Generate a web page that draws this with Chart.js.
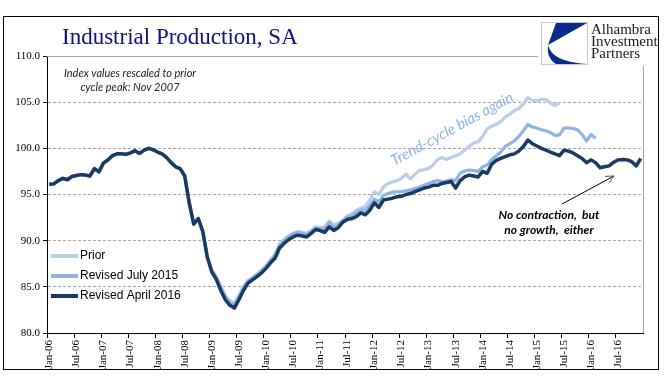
<!DOCTYPE html>
<html>
<head>
<meta charset="utf-8">
<script src="https://cdn.jsdelivr.net/npm/chart.js@4"></script>
<style>
html, body { margin: 0; padding: 0; background: #fff; }
#wrap { width: 669px; height: 392px; }
</style>
</head>
<body>
<div id="wrap"><canvas id="ipChart" width="669" height="392"></canvas></div>
<script>
// month labels Jan-06 .. Dec-16
const monthNames = ['Jan', 'Feb', 'Mar', 'Apr', 'May', 'Jun', 'Jul', 'Aug', 'Sep', 'Oct', 'Nov', 'Dec'];
const yearNames = ['06', '07', '08', '09', '10', '11', '12', '13', '14', '15', '16'];
const labels = [];
yearNames.forEach(y => monthNames.forEach(m => labels.push(m + '-' + y)));

const seriesNames = ['Prior', 'Revised July 2015', 'Revised April 2016'];
const seriesColors = ['#B9CDE5', '#8DB4E2', '#1B3A63'];

const prior = [
    96.1, 96.15, 96.5, 96.75, 96.6, 96.95, 97.05, 97.15, 97.1, 97.0,
    97.8, 97.45, 98.4, 98.75, 99.2, 99.4, 99.4, 99.35, 99.5, 99.75,
    99.45, 99.8, 100.0, 99.85, 99.6, 99.4, 99.0, 98.45, 98.0, 97.8,
    97.0, 94.1, 91.8, 92.4, 91.0, 88.3, 86.8, 86.1, 85.0, 84.1,
    83.5, 83.2, 84.1, 85.0, 85.7, 86.0, 86.4, 86.8, 87.3, 87.9,
    88.5, 89.6, 90.1, 90.5, 90.8, 91.0, 90.9, 90.8, 91.1, 91.5,
    91.4, 91.5, 92.1, 91.7, 91.9, 92.2, 92.7, 92.9, 93.3, 93.5,
    93.7, 94.4, 95.3, 95.0, 95.8, 96.2, 96.35, 96.5, 96.75, 97.2,
    96.7, 97.2, 97.6, 97.7, 97.8, 98.2, 98.8, 99.0, 98.8, 99.0,
    99.2, 99.4, 99.8, 100.2, 100.6, 100.7, 101.3, 102.1, 102.4, 102.6,
    102.9, 103.4, 103.7, 104.1, 104.3, 104.8, 105.5, 105.2, 105.15, 105.3,
    105.3, 104.9, 104.65, 104.9
];

const revisedJul15 = [
    96.1, 96.15, 96.5, 96.75, 96.6, 96.95, 97.05, 97.15, 97.1, 97.0,
    97.8, 97.45, 98.4, 98.75, 99.2, 99.4, 99.4, 99.35, 99.5, 99.75,
    99.45, 99.8, 100.0, 99.85, 99.6, 99.4, 99.0, 98.45, 98.0, 97.8,
    97.0, 94.1, 91.8, 92.4, 91.0, 88.3, 86.8, 86.0, 84.9, 83.9,
    83.3, 83.0, 83.9, 84.9, 85.6, 85.95, 86.3, 86.7, 87.2, 87.8,
    88.4, 89.5, 90.0, 90.4, 90.7, 90.9, 90.8, 90.65, 91.0, 91.4,
    91.3, 91.3, 92.0, 91.4, 91.7, 92.1, 92.5, 92.7, 93.0, 93.3,
    93.3, 93.8, 94.5, 94.2, 94.9, 95.1, 95.25, 95.3, 95.3, 95.4,
    95.5, 95.65, 95.8, 96.0, 96.2, 96.4, 96.5, 96.4, 96.45, 96.6,
    96.5, 97.3, 97.55, 97.65, 97.6, 97.5, 98.0, 98.2, 98.8, 99.2,
    99.6, 100.2, 100.5, 100.8, 101.3, 101.9, 102.6, 102.3, 102.2, 102.0,
    101.9, 101.7, 101.4, 101.45, 102.2, 102.2, 102.15, 102.0, 101.5, 100.8,
    101.5, 101.1
];

const revisedApr16 = [
    96.1, 96.15, 96.5, 96.75, 96.6, 96.95, 97.05, 97.15, 97.1, 97.0,
    97.8, 97.45, 98.4, 98.75, 99.2, 99.4, 99.4, 99.35, 99.5, 99.75,
    99.45, 99.8, 100.0, 99.85, 99.6, 99.4, 99.0, 98.45, 98.0, 97.8,
    97.0, 94.1, 91.8, 92.4, 91.0, 88.2, 86.6, 85.8, 84.6, 83.6,
    83.0, 82.7, 83.6, 84.6, 85.4, 85.75, 86.1, 86.5, 87.0, 87.6,
    88.1, 89.2, 89.7, 90.1, 90.4, 90.6, 90.5, 90.4, 90.8, 91.2,
    91.1, 90.9, 91.5, 91.1, 91.4, 92.0, 92.3, 92.4, 92.6, 93.0,
    92.8, 93.3, 94.1, 93.6, 94.4, 94.5, 94.6, 94.75, 94.8, 95.0,
    95.1, 95.3, 95.5, 95.7, 95.8, 96.0, 96.0, 96.2, 96.3, 96.4,
    95.7, 96.5, 96.9, 97.1, 97.0, 96.9, 97.5, 97.3, 98.3, 98.7,
    98.9, 99.1, 99.3, 99.4, 99.7, 100.2, 100.9, 100.5, 100.25, 100.0,
    99.8, 99.6, 99.4, 99.2, 99.8, 99.7, 99.5, 99.2, 98.9, 98.45,
    98.75, 98.45, 97.9, 98.0, 98.1, 98.5, 98.75, 98.8, 98.75, 98.55,
    98.1, 98.9
];

const yTickLabels = ['80.0', '85.0', '90.0', '95.0', '100.0', '105.0', '110.0'];

const chromePlugin = {
    id: 'chrome',
    beforeDraw(chart) {
        const ctx = chart.ctx;
        ctx.save();
        ctx.fillStyle = '#fff';
        ctx.fillRect(0, 0, chart.width, chart.height);
        ctx.restore();
    },
    afterDraw(chart) {
        const ctx = chart.ctx;
        const area = chart.chartArea;
        ctx.save();

        // plot area border top / right
        ctx.strokeStyle = '#A6A6A6';
        ctx.lineWidth = 1;
        ctx.beginPath();
        ctx.moveTo(area.left, area.top + 0.5);
        ctx.lineTo(area.right + 0.5, area.top + 0.5);
        ctx.lineTo(area.right + 0.5, area.bottom);
        ctx.stroke();

        // outer frame
        ctx.strokeStyle = '#000';
        ctx.strokeRect(3.5, 16.5, 655, 353);

        // title
        ctx.fillStyle = '#10107E';
        ctx.font = '23px "Liberation Serif"';
        ctx.textBaseline = 'alphabetic';
        ctx.fillText('Industrial Production, SA', 62, 44);

        // logo
        ctx.fillStyle = '#fff';
        ctx.fillRect(538, 20, 120, 46);
        ctx.strokeStyle = '#C8C8C8';
        ctx.strokeRect(541.5, 22.5, 46, 42);
        ctx.fillStyle = '#0A2A8C';
        ctx.beginPath();
        ctx.moveTo(556, 23);
        ctx.lineTo(587, 23);
        ctx.lineTo(548, 45);
        ctx.closePath();
        ctx.fill();
        ctx.beginPath();
        ctx.moveTo(548, 45);
        ctx.quadraticCurveTo(552, 62, 587, 64);
        ctx.lineTo(556, 64);
        ctx.quadraticCurveTo(546, 58, 548, 45);
        ctx.fill();
        ctx.fillStyle = '#1a1a2a';
        ctx.font = '15px "Liberation Serif"';
        ctx.fillText('Alhambra', 591, 34);
        ctx.fillText('Investment', 591, 46);
        ctx.fillText('Partners', 591, 58);

        // legend
        ctx.font = '12px "Liberation Sans"';
        ctx.textBaseline = 'middle';
        seriesNames.forEach((name, i) => {
            const y = 256 + i * 20;
            ctx.strokeStyle = seriesColors[i];
            ctx.lineWidth = 4;
            ctx.beginPath();
            ctx.moveTo(51, y);
            ctx.lineTo(78, y);
            ctx.stroke();
            ctx.fillStyle = '#000';
            ctx.fillText(name, 80, y);
        });

        // annotations
        ctx.textAlign = 'center';
        ctx.fillStyle = '#222';
        ctx.font = 'italic 11px Lato';
        ctx.fillText('Index values rescaled to prior', 130, 73);
        ctx.fillText('cycle peak: Nov 2007', 130, 87);

        ctx.font = 'bold italic 12px Lato';
        ctx.fillStyle = '#000';
        ctx.fillText('No contraction,  but', 549, 215);
        ctx.fillText('no growth,  either', 549, 230);

        ctx.save();
        ctx.translate(452, 129);
        ctx.rotate(-0.5);
        ctx.font = 'italic 15px Lato';
        ctx.fillStyle = '#8DB4E2';
        ctx.fillText('Trend-cycle bias again', 0, 0);
        ctx.restore();

        // arrow
        const x1 = 562, y1 = 204, x2 = 614, y2 = 176;
        const ang = Math.atan2(y2 - y1, x2 - x1);
        ctx.strokeStyle = '#000';
        ctx.lineWidth = 1;
        ctx.beginPath();
        ctx.moveTo(x1, y1);
        ctx.lineTo(x2, y2);
        ctx.stroke();
        ctx.strokeStyle = '#555';
        ctx.beginPath();
        ctx.moveTo(x2 - 9 * Math.cos(ang - 0.45), y2 - 9 * Math.sin(ang - 0.45));
        ctx.lineTo(x2, y2);
        ctx.lineTo(x2 - 9 * Math.cos(ang + 0.45), y2 - 9 * Math.sin(ang + 0.45));
        ctx.stroke();

        ctx.restore();
    }
};

const seriesData = [prior, revisedJul15, revisedApr16];

new Chart(document.getElementById('ipChart'), {
    type: 'line',
    data: {
        labels: labels,
        datasets: seriesNames.map((name, i) => ({
            label: name,
            data: seriesData[i],
            borderColor: seriesColors[i],
            borderWidth: i === 2 ? 3.5 : 3.2,
            pointRadius: 0,
            tension: 0,
            borderJoinStyle: 'round',
            order: 3 - i
        }))
    },
    options: {
        responsive: false,
        animation: false,
        layout: { padding: { top: 56, right: 26, left: 0, bottom: 0 } },
        plugins: {
            legend: { display: false },
            tooltip: { enabled: false }
        },
        scales: {
            x: {
                type: 'category',
                offset: true,
                ticks: {
                    autoSkip: false,
                    maxRotation: 90,
                    minRotation: 90,
                    padding: 2,
                    color: '#000',
                    font: { family: 'Liberation Serif', size: 11 },
                    callback: function (val, i) { return i % 6 === 0 ? this.getLabelForValue(val) : ''; }
                },
                grid: {
                    offset: true,
                    drawOnChartArea: false,
                    tickLength: 5,
                    tickColor: ctx => ctx.index % 6 === 0 ? '#000' : 'rgba(0,0,0,0)'
                },
                border: { color: '#000' },
                afterFit: s => { s.height = 59; }
            },
            y: {
                min: 80,
                max: 110,
                ticks: {
                    stepSize: 5,
                    padding: 3,
                    color: '#000',
                    font: { family: 'Liberation Serif', size: 11 },
                    callback: (v, i) => yTickLabels[i]
                },
                grid: {
                    color: ctx => ctx.tick && ctx.tick.value === 80 ? 'rgba(0,0,0,0)' : '#A6A6A6',
                    tickColor: '#000',
                    tickLength: 4
                },
                border: { color: '#000', dash: [3, 2] },
                afterFit: s => { s.width = 47; }
            }
        }
    },
    plugins: [chromePlugin]
});
</script>
</body>
</html>
